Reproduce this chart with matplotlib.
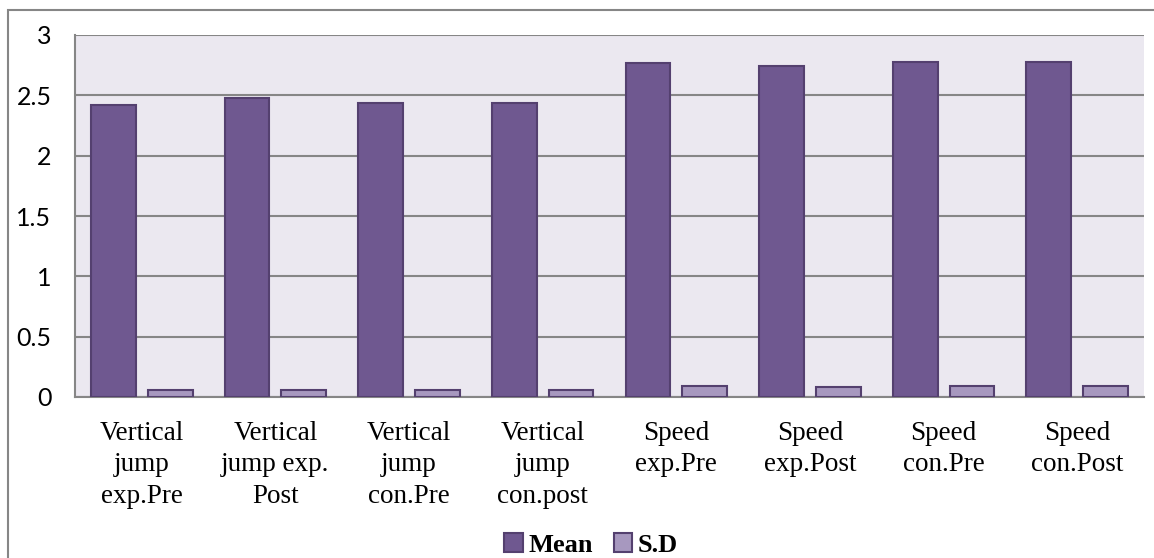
import matplotlib
matplotlib.use("Agg")
import numpy as np
from matplotlib import pyplot as plt
from matplotlib.patches import Rectangle

# data
categories = ["Vertical\njump\nexp.Pre", "Vertical\njump exp.\nPost",
              "Vertical\njump\ncon.Pre", "Vertical\njump\ncon.post",
              "Speed\nexp.Pre", "Speed\nexp.Post",
              "Speed\ncon.Pre", "Speed\ncon.Post"]
mean_vals = [2.42, 2.48, 2.44, 2.44, 2.77, 2.74, 2.78, 2.78]
sd_vals = [0.06, 0.06, 0.06, 0.06, 0.09, 0.08, 0.09, 0.09]
y_ticks = [0, 0.5, 1, 1.5, 2, 2.5, 3]
y_tick_labels = ["0", "0.5", "1", "1.5", "2", "2.5", "3"]

mean_color = "#6F5890"
sd_color = "#A798BF"
edge_color = "#54406F"

fig = plt.figure(figsize=(11.54, 5.58), dpi=100)
ax = fig.add_axes([75/1154, 1 - 397/558, (1144-75)/1154, (397-35)/558])

# outer chart border
fig.patches.append(Rectangle((8/1154, -0.05), 1.1, 1 - 10/558 + 0.05,
                             transform=fig.transFigure, fill=False,
                             edgecolor="#868686", lw=1.5, zorder=0))

x = np.arange(len(categories))
w = 0.335
ax.bar(x - 0.212, mean_vals, w, color=mean_color, edgecolor=edge_color,
       lw=1.5, label="Mean", zorder=3)
ax.bar(x + 0.212, sd_vals, w, color=sd_color, edgecolor=edge_color,
       lw=1.5, label="S.D", zorder=3)

ax.set_facecolor("#EBE8F0")
ax.set_xlim(-0.5, len(categories) - 0.5)
ax.set_ylim(0, 3)
ax.set_yticks(y_ticks)
ax.set_yticklabels(y_tick_labels, fontfamily="Lato", fontsize=18)
ax.yaxis.grid(True, color="#868686", lw=1.5, zorder=0)
ax.set_axisbelow(True)
ax.tick_params(axis="y", length=0, pad=17)
ax.tick_params(axis="x", length=0, pad=17)
ax.set_xticks(x)
ax.set_xticklabels(categories, fontfamily="Liberation Serif", fontsize=19.5,
                   linespacing=1.35)

for side in ["top", "right"]:
    ax.spines[side].set_visible(False)
ax.spines["left"].set_color("#868686")
ax.spines["bottom"].set_color("#868686")
ax.spines["left"].set_linewidth(1.5)
ax.spines["bottom"].set_linewidth(1.5)

leg = fig.legend(loc="center", bbox_to_anchor=(591/1154, 1 - 545/558),
                 ncol=2, frameon=False, handlelength=0.7, handleheight=0.7,
                 handletextpad=0.2, columnspacing=0.8,
                 prop={"family": "Liberation Serif", "weight": "bold", "size": 19})

fig.savefig("out.png", dpi=100)
